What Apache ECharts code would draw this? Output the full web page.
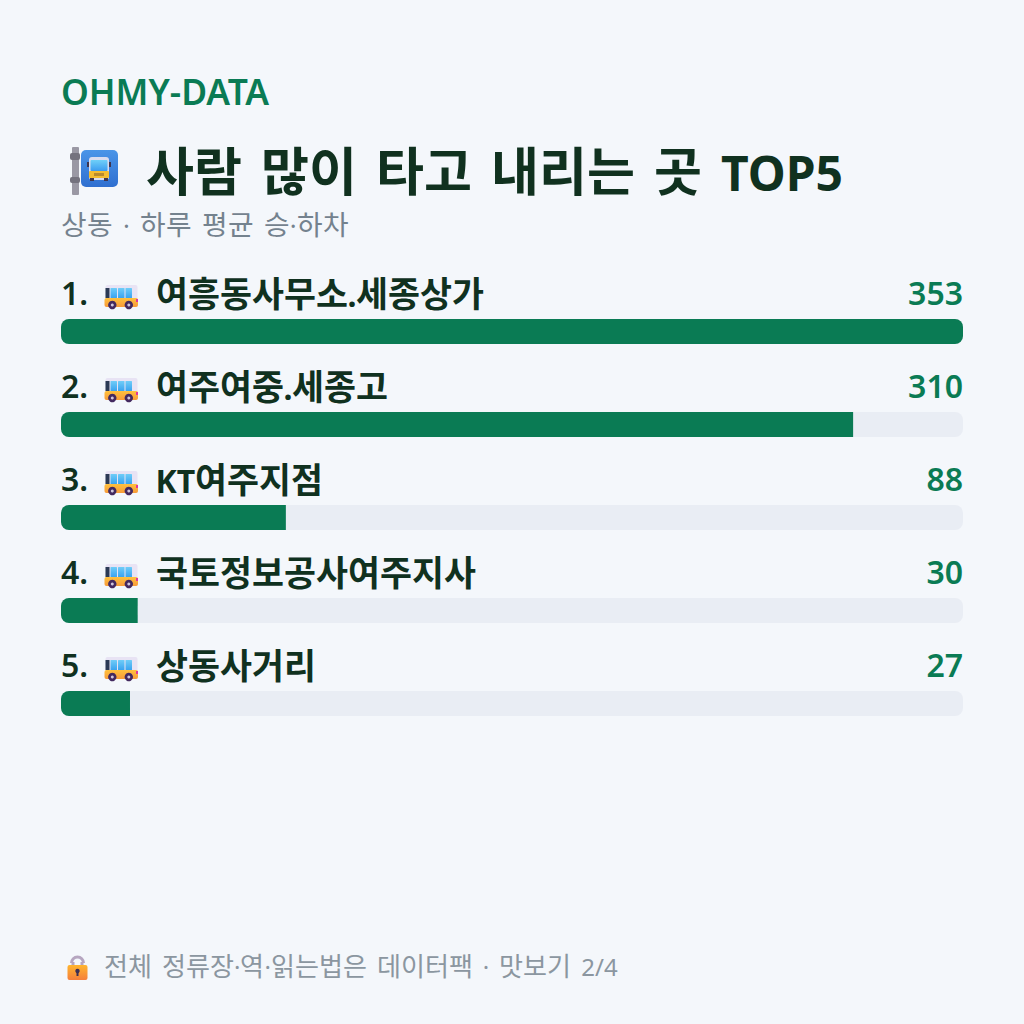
<!DOCTYPE html>
<html lang="ko">
<head>
<meta charset="utf-8">
<title>사람 많이 타고 내리는 곳 TOP5</title>
<script src="https://cdn.jsdelivr.net/npm/echarts@6/dist/echarts.min.js"></script>
<style>
/* Hangul set a little larger than Latin, with wider word spaces */
@font-face{font-family:"HangulFit";font-weight:400;src:local("Noto Sans CJK KR"),local("Noto Sans CJK KR Regular");size-adjust:108.7%;unicode-range:U+AC00-D7AF}
@font-face{font-family:"HangulFit";font-weight:700;src:local("Noto Sans CJK KR Bold");size-adjust:108.7%;unicode-range:U+AC00-D7AF}
@font-face{font-family:"WordSpace";src:local("DejaVu Sans");size-adjust:126%;unicode-range:U+20}
html,body{margin:0;padding:0;background:#f4f7fb}
#chart{width:1024px;height:1024px}
</style>
</head>
<body>
<div id="chart"></div>
<script>
// Boarding and alighting counts per stop
const stopNames = ['여흥동사무소.세종상가', '여주여중.세종고', 'KT여주지점', '국토정보공사여주지사', '상동사거리'];
const stopValues = [353, 310, 88, 30, 27];
const brandText = 'OHMY-DATA';
const titleText = '사람 많이 타고 내리는 곳 TOP5';
const subtitleText = '상동 · 하루 평균 승·하차';
const footerText = '전체 정류장·역·읽는법은 데이터팩 · 맛보기 2/4';

const GREEN = '#0a7b54';
const INK = '#10311f';
const TRACK = '#e9edf4';
const GREY = '#74828e';
const FOOT_GREY = '#8b96a0';
const FONT = 'HangulFit,WordSpace,"Noto Sans","Noto Sans CJK KR",sans-serif';
const maxValue = Math.max(...stopValues);

const vGrad = (a, b) => new echarts.graphic.LinearGradient(0, 0, 0, 1, [
  { offset: 0, color: a }, { offset: 1, color: b }
]);
const rect = (x, y, width, height, r, fill) => ({
  type: 'rect', shape: { x, y, width, height, r }, style: { fill }
});
const circle = (cx, cy, r, fill) => ({
  type: 'circle', shape: { cx, cy, r }, style: { fill }
});

// Small side-view bus placed beside each stop name
function busIcon(x, y) {
  return {
    type: 'group', x, y,
    children: [
      rect(1, 0, 32, 22, 2, '#e8e3f4'),
      rect(0, 13, 33.5, 9, 2, vGrad('#ffc13d', '#f79a3a')),
      rect(1, 3, 4, 10, 0, '#2b3a55'),
      rect(6, 3, 6.5, 10, 0.5, vGrad('#6fcdf8', '#3aa3ef')),
      rect(13.5, 3, 6.5, 10, 0.5, vGrad('#6fcdf8', '#3aa3ef')),
      rect(21, 3, 6.5, 10, 0.5, vGrad('#6fcdf8', '#3aa3ef')),
      rect(31.5, 14, 2, 3, 0, '#e0389a'),
      circle(7.8, 20, 4.2, '#43295f'), circle(7.8, 20, 1.5, '#cfc6dc'),
      circle(24.3, 20, 4.2, '#43295f'), circle(24.3, 20, 1.5, '#cfc6dc')
    ]
  };
}

// Bus-stop sign next to the title
function stopSign(x, y) {
  return {
    type: 'group', x, y,
    children: [
      rect(2, 0, 7, 48, 1, '#9a98a4'),
      rect(0, 6, 10, 7, 2, '#74727e'),
      rect(0, 30, 10, 6, 2, '#74727e'),
      rect(11, 3, 37, 37, 5, vGrad('#4a95e8', '#2f6fd0')),
      rect(19, 10, 20, 23, 3, '#d9dcef'),
      rect(20.5, 13, 17, 11, 1, vGrad('#6fd0f8', '#3c9cf0')),
      rect(19, 24, 20, 7, 1, '#f4bd32'),
      rect(24, 26, 10, 3, 0, '#b98a2c'),
      rect(20, 31, 4, 3, 0, '#3d3550'),
      rect(34, 31, 4, 3, 0, '#3d3550'),
      rect(17, 15, 2, 5, 0, '#3d3550'),
      rect(39, 15, 2, 5, 0, '#3d3550')
    ]
  };
}

// Padlock in front of the footer note
function lockIcon(x, y) {
  return {
    type: 'group', x, y,
    children: [
      { type: 'arc', shape: { cx: 10.5, cy: 10, r: 6, startAngle: Math.PI, endAngle: 0, clockwise: true },
        style: { stroke: '#b6a6c0', lineWidth: 3, fill: 'none' } },
      rect(4.5, 9, 3, 4, 0, '#b6a6c0'),
      rect(13.5, 9, 3, 4, 0, '#b6a6c0'),
      rect(0.5, 12, 20, 15, 2, vGrad('#ffb52e', '#f57f3c')),
      circle(10.5, 18, 2.2, '#3b2f55'),
      rect(9.5, 18, 2, 5, 0, '#3b2f55')
    ]
  };
}

const text = (t, x, y, font, fill, align) => ({
  type: 'text',
  style: { text: t, x, y, font, fill, align: align || 'left', verticalAlign: 'middle' }
});

function draw() {
  const chart = echarts.init(document.getElementById('chart'), null, { renderer: 'svg' });
  chart.setOption({
    backgroundColor: '#f4f7fb',
    animation: false,
    grid: { left: 61, top: 285, width: 902, height: 465 },
    xAxis: { type: 'value', min: 0, max: maxValue, show: false },
    yAxis: { type: 'category', data: stopNames, inverse: true, show: false },
    graphic: [
      text(brandText, 61, 89.5, '600 35.4px ' + FONT, GREEN),
      stopSign(70, 147),
      text(titleText, 146, 170, '700 48px ' + FONT, INK),
      text(subtitleText, 61, 223.5, '400 25.6px ' + FONT, GREY),
      lockIcon(67, 953),
      text(footerText, 104, 965.5, '400 24px ' + FONT, FOOT_GREY)
    ],
    series: [
      {
        name: '기준',
        type: 'bar',
        barWidth: 25,
        barGap: '-100%',
        silent: true,
        data: stopValues.map(() => maxValue),
        itemStyle: { color: TRACK, borderRadius: 8 }
      },
      {
        name: '승하차',
        type: 'bar',
        barWidth: 25,
        silent: true,
        data: stopValues.map(v => ({
          value: v,
          itemStyle: { color: GREEN, borderRadius: v === maxValue ? 8 : [8, 0, 0, 8] }
        }))
      },
      {
        // Heading row above each bar: rank, icon, stop name and value
        name: '항목',
        type: 'custom',
        silent: true,
        clip: false,
        data: stopValues.map((v, i) => [v, i]),
        encode: { x: 0, y: 1 },
        renderItem(params, api) {
          const i = api.value(1);
          const rowY = api.coord([0, i])[1];
          const left = params.coordSys.x;
          const right = left + params.coordSys.width;
          const mid = rowY - 38.5;
          return {
            type: 'group',
            children: [
              text((i + 1) + '.', left, mid - 1.5, '600 32px ' + FONT, INK),
              busIcon(left + 43.5, rowY - 46.5),
              text(stopNames[i], left + 94.5, mid, '700 32px ' + FONT, INK),
              text(String(stopValues[i]), right, mid - 1.5, '600 32px ' + FONT, GREEN, 'right')
            ]
          };
        }
      }
    ]
  });
}

// Wait for the local font faces before drawing
Promise.all([
  document.fonts.load('700 32px HangulFit', '가'),
  document.fonts.load('400 26px HangulFit', '가'),
  document.fonts.load('400 26px WordSpace', ' ')
]).then(draw, draw);
</script>
</body>
</html>
